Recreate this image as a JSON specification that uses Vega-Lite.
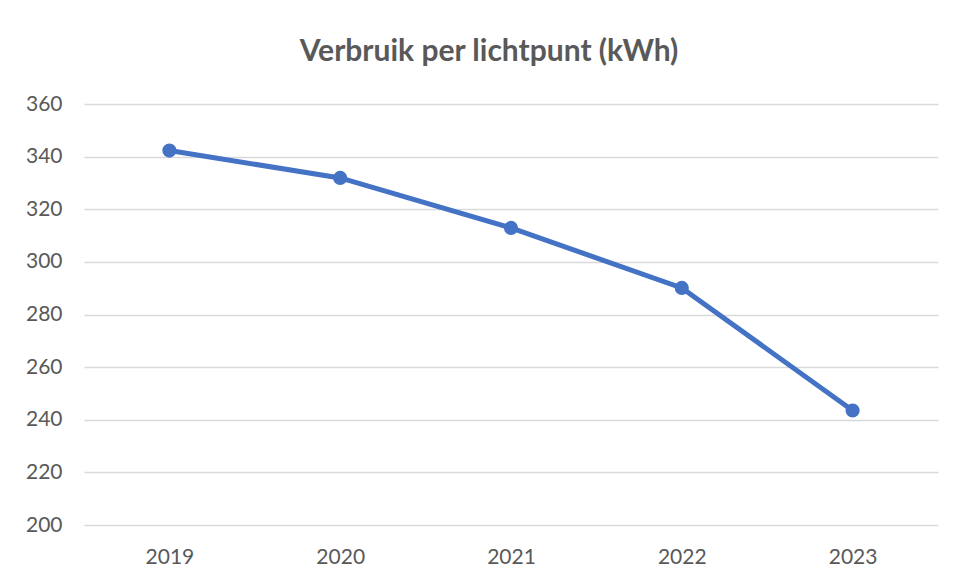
{
  "$schema": "https://vega.github.io/schema/vega-lite/v6.json",
  "width": 854,
  "height": 421,
  "autosize": {"type": "none"},
  "padding": {"left": 84, "top": 104, "right": 17, "bottom": 56},
  "background": "white",
  "title": {
    "text": "Verbruik per lichtpunt (kWh)",
    "font": "Lato",
    "fontSize": 30,
    "fontWeight": "bold",
    "color": "#595959",
    "anchor": "middle",
    "frame": "group",
    "offset": 26,
    "dx": -22
  },
  "data": {
    "values": [
      {"jaar": "2019", "kwh": 342.3},
      {"jaar": "2020", "kwh": 331.9},
      {"jaar": "2021", "kwh": 312.9},
      {"jaar": "2022", "kwh": 290.1},
      {"jaar": "2023", "kwh": 243.5}
    ]
  },
  "mark": {
    "type": "line",
    "color": "#4472C4",
    "strokeWidth": 5,
    "point": {"filled": true, "size": 200, "color": "#4472C4"}
  },
  "encoding": {
    "x": {
      "field": "jaar",
      "type": "ordinal",
      "scale": {"padding": 0.5},
      "axis": {
        "title": null,
        "labelAngle": 0,
        "domain": false,
        "ticks": false,
        "grid": false,
        "labelPadding": 21,
        "labelFont": "Lato",
        "labelFontSize": 21,
        "labelColor": "#595959"
      }
    },
    "y": {
      "field": "kwh",
      "type": "quantitative",
      "scale": {"domain": [200, 360], "nice": false, "zero": false},
      "axis": {
        "title": null,
        "values": [200, 220, 240, 260, 280, 300, 320, 340, 360],
        "domain": false,
        "ticks": false,
        "grid": true,
        "gridColor": "#D9D9D9",
        "gridWidth": 1.5,
        "labelPadding": 22,
        "labelFont": "Lato",
        "labelFontSize": 21,
        "labelColor": "#595959"
      }
    }
  },
  "config": {"view": {"stroke": null}}
}
